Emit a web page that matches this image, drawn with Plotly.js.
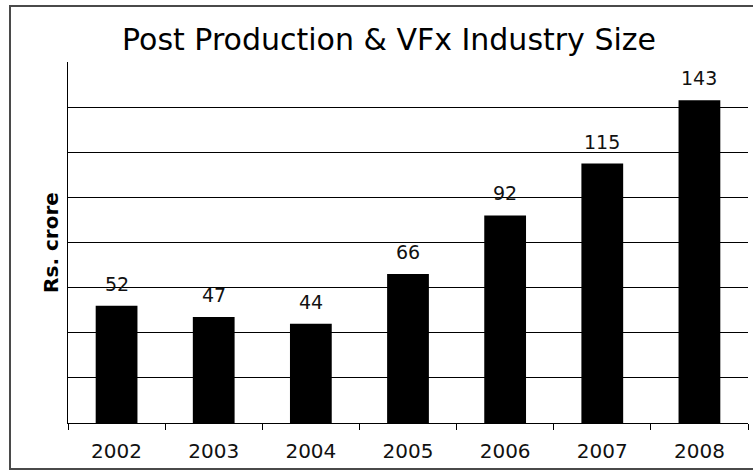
<!DOCTYPE html>
<html>
<head>
<meta charset="utf-8">
<script src="https://cdn.plot.ly/plotly-3.0.1.min.js"></script>
<style>
  html, body { margin: 0; padding: 0; background: #fff; }
  #wrap { position: relative; width: 753px; height: 470px; overflow: hidden; }
  #chart { position: absolute; left: 0; top: 0; width: 753px; height: 470px; }
  #frame { position: absolute; left: 9px; top: 5px; width: 760px; height: 461px; border: 2px solid #4a4a4a; pointer-events: none; }
</style>
</head>
<body>
<div id="wrap">
  <div id="chart"></div>
  <div id="frame"></div>
</div>
<script>
const years = ['2002', '2003', '2004', '2005', '2006', '2007', '2008'];
const sizes = [52, 47, 44, 66, 92, 115, 143];
const gridValues = [20, 40, 60, 80, 100, 120, 140];
const chartTitle = 'Post Production &amp; VFx Industry Size';
const yTitle = 'Rs. crore';

const FONT = 'DejaVu Sans, Verdana, sans-serif';

const trace = {
  type: 'bar',
  x: years,
  y: sizes,
  marker: { color: '#000', line: { width: 0 } },
  hoverinfo: 'none'
};

// value labels above each bar (x given as the category index of the year)
const labels = years.map((yr, i) => ({
  x: i,
  y: sizes[i],
  xref: 'x',
  yref: 'y',
  text: String(sizes[i]),
  showarrow: false,
  xanchor: 'center',
  yanchor: 'bottom',
  yshift: 9,
  font: { family: FONT, size: 19, color: '#111' }
}));

const layout = {
  width: 753,
  height: 470,
  margin: { l: 68, r: 5, t: 62, b: 47 },
  paper_bgcolor: '#fff',
  plot_bgcolor: '#fff',
  showlegend: false,
  bargap: 0.57,
  annotations: labels,
  title: {
    text: chartTitle,
    font: { family: FONT, size: 30, color: '#000' },
    x: 389 / 753, xref: 'container', xanchor: 'center',
    y: 1 - 39 / 470, yref: 'container', yanchor: 'middle'
  },
  xaxis: {
    type: 'category',
    categoryorder: 'array',
    categoryarray: years,
    range: [-0.5, years.length - 0.5],
    tickson: 'boundaries',
    ticks: 'outside',
    ticklen: 6,
    tickcolor: '#000',
    tickwidth: 1,
    tickangle: 0,
    showline: true,
    linecolor: '#000',
    linewidth: 1,
    showgrid: false,
    ticklabelstandoff: 10,
    tickfont: { family: FONT, size: 20, color: '#111' },
    fixedrange: true
  },
  yaxis: {
    range: [0, 160],
    tickvals: gridValues,
    showticklabels: false,
    ticks: '',
    showgrid: true,
    gridcolor: '#000',
    gridwidth: 1,
    zeroline: false,
    showline: true,
    linecolor: '#000',
    linewidth: 1,
    title: {
      text: '<b>' + yTitle + '</b>',
      font: { family: FONT, size: 20, color: '#000' },
      standoff: 3
    },
    fixedrange: true
  }
};

Plotly.newPlot('chart', [trace], layout, { staticPlot: true, displayModeBar: false });
</script>
</body>
</html>
